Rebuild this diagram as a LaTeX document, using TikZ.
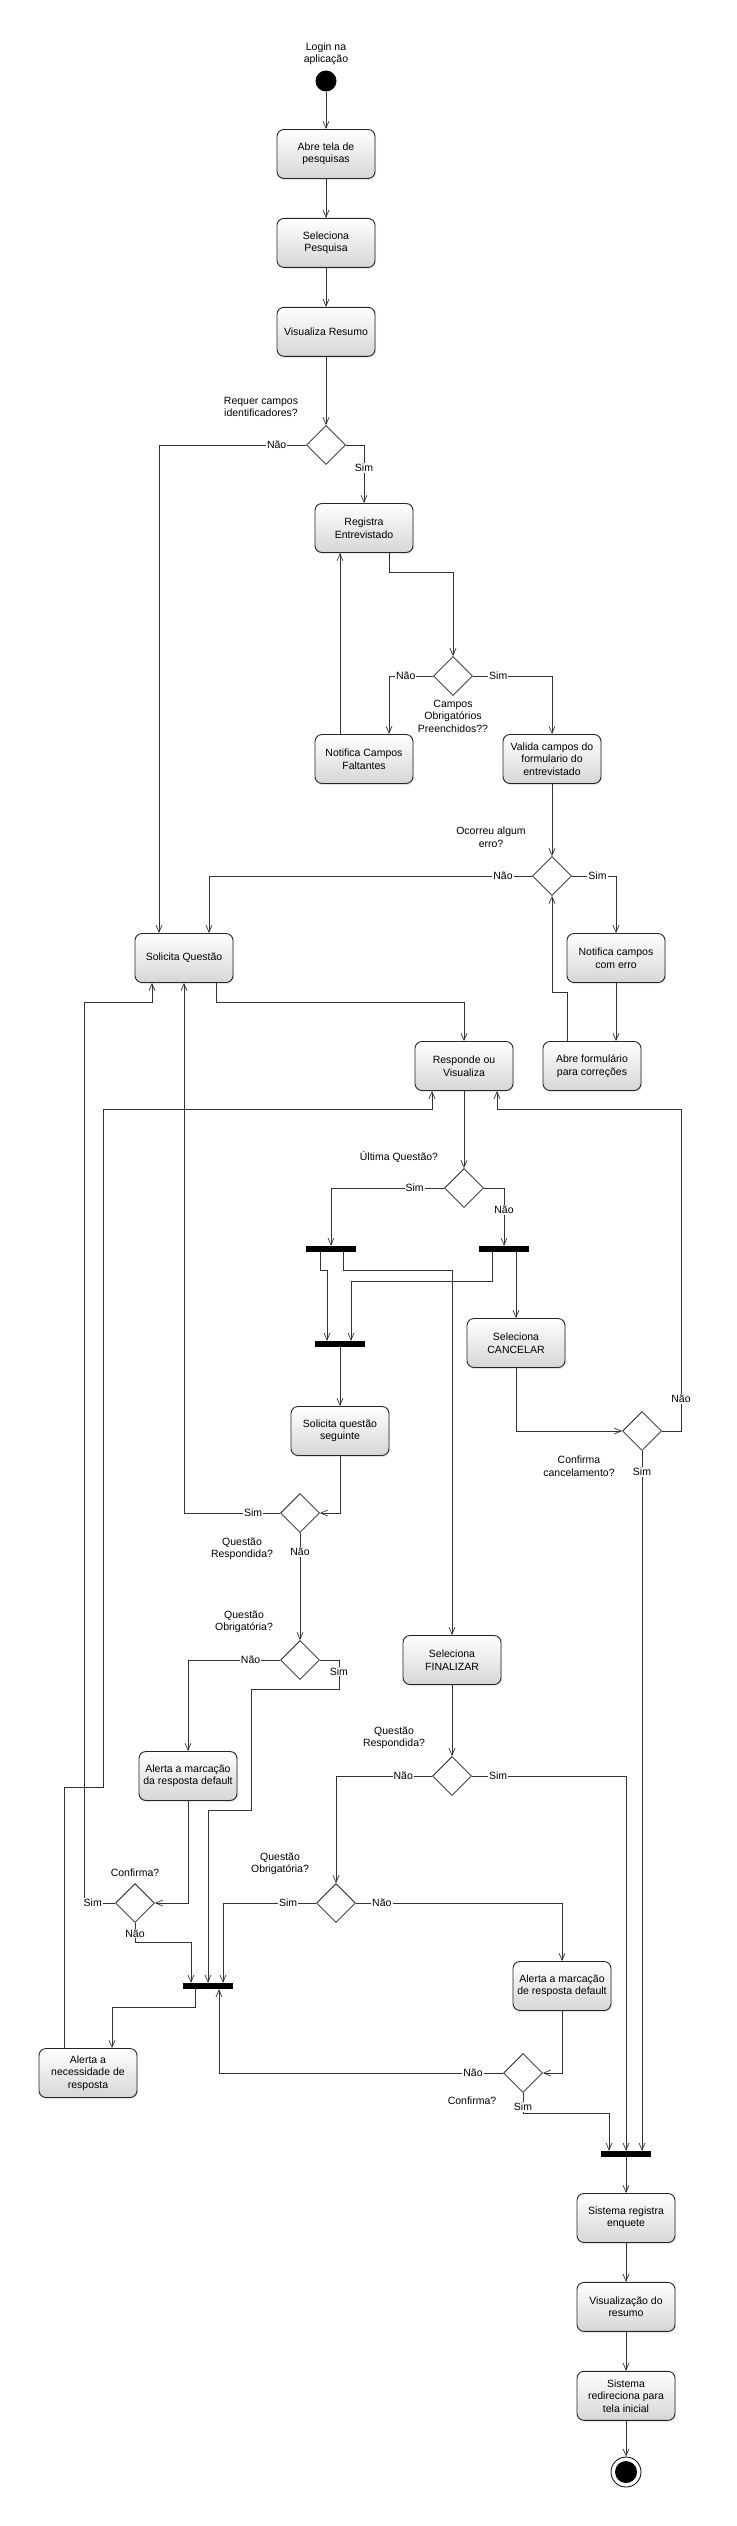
\documentclass[tikz,border=0pt]{standalone}
\usepackage{fontspec}
\setmainfont{Liberation Sans}
\usepackage{tikz}
\usetikzlibrary{arrows.meta,positioning,shapes.geometric,shadows}

\begin{document}
\begin{tikzpicture}[
    x=1pt, y=-1pt,
    font=\fontsize{10.5}{12.5}\selectfont,
    node distance=39pt,
    act/.style={draw=black!85, line width=0.9pt, rounded corners=7pt, minimum width=98pt, minimum height=49pt, align=center, inner sep=2pt, top color=white, bottom color=black!16, drop shadow={opacity=0.2, shadow xshift=1pt, shadow yshift=-1.5pt}},
    decision/.style={diamond, draw=black!85, line width=0.8pt, aspect=1, minimum width=39pt, minimum height=39pt, inner sep=0pt, fill=white},
    syncbar/.style={fill=black, minimum width=50pt, minimum height=6pt, inner sep=0pt},
    guard/.style={fill=white, inner sep=1pt},
    note/.style={align=center, inner sep=0pt},
    arrow/.style={-{Straight Barb[length=7pt,width=6pt]}, draw=black!80, line width=0.7pt}
]
\useasboundingbox (0,0) rectangle (736,2526);

% inicio
\node[note] (login) at (326,54) {Login na\\aplicação};
\node[circle, fill=black, minimum size=21pt, inner sep=0pt] (start) at (326,81) {};
\node[act] (abre) at (326,154) {Abre tela de\\pesquisas};
\node[act, below=of abre] (selp) {Seleciona\\Pesquisa};
\node[act, below=of selp] (visres) {Visualiza Resumo};
\node[decision] (d1) at (326,445) {};
\node[note] (q1) at (261,407) {Requer campos\\identificadores?};

% entrevistado
\node[act] (registra) at (364,528) {Registra\\Entrevistado};
\node[decision] (d2) at (453,676) {};
\node[note] (q2) at (453,716) {Campos\\Obrigatórios\\Preenchidos??};
\node[act] (notfalt) at (364,759) {Notifica Campos\\Faltantes};
\node[act] (valida) at (552,759) {Valida campos do\\formulario do\\entrevistado};
\node[decision] (d3) at (552,876) {};
\node[note] (q3) at (491,837) {Ocorreu algum\\erro?};
\node[act] (noterro) at (616,958) {Notifica campos\\com erro};
\node[act] (abrecor) at (592,1066) {Abre formulário\\para correções};

% questoes
\node[act] (solq) at (184,958) {Solicita Questão};
\node[act] (resp) at (464,1066) {Responde ou\\Visualiza};
\node[decision] (d4) at (464,1188) {};
\node[note] (q4) at (399,1157) {Última Questão?};
\node[syncbar] (bar1) at (331,1249) {};
\node[syncbar] (bar2) at (504,1249) {};
\node[syncbar] (join1) at (340,1344) {};
\node[act] (cancelar) at (516,1343) {Seleciona\\CANCELAR};
\node[decision] (d5) at (642,1431) {};
\node[note] (q5) at (579,1466) {Confirma\\cancelamento?};
\node[act] (solseg) at (340,1431) {Solicita questão\\seguinte};
\node[decision] (d6) at (300,1513) {};
\node[note] (q6) at (242,1549) {Questão\\Respondida?};
\node[decision] (d7) at (300,1660) {};
\node[note] (q7) at (244,1622) {Questão\\Obrigatória?};
\node[act] (alerta1) at (188,1776) {Alerta a marcação\\da resposta default};
\node[decision] (d9) at (135,1903) {};
\node[note] (q9) at (135,1873) {Confirma?};
\node[syncbar] (join2) at (208,1986) {};
\node[act] (alerta2) at (88,2073) {Alerta a\\necessidade de\\resposta};

% finalizar
\node[act] (finalizar) at (452,1660) {Seleciona\\FINALIZAR};
\node[decision] (d8) at (452,1776) {};
\node[note] (q8) at (394,1738) {Questão\\Respondida?};
\node[decision] (d10) at (336,1903) {};
\node[note] (q10) at (280,1864) {Questão\\Obrigatória?};
\node[act] (alerta3) at (562,1986) {Alerta a marcação\\de resposta default};
\node[decision] (d11) at (523,2073) {};
\node[note] (q11) at (472,2101) {Confirma?};
\node[syncbar] (finalbar) at (626,2154) {};
\node[act] (sisreg) at (626,2218) {Sistema registra\\enquete};
\node[act, below=of sisreg] (visresumo) {Visualização do\\resumo};
\node[act, below=of visresumo] (redir) {Sistema\\redireciona para\\tela inicial};
\node[circle, draw=black, line width=0.8pt, fill=white, minimum size=30pt, inner sep=0pt] (fim) at (626,2472) {};
\node[circle, fill=black, minimum size=22pt, inner sep=0pt] (fimdot) at (fim) {};

% fluxos diretos
\foreach \a/\b in {start/abre,abre/selp,selp/visres,visres/d1,valida/d3,resp/d4,join1/solseg,finalizar/d8,finalbar/sisreg,sisreg/visresumo,visresumo/redir,redir/fim} {
    \draw[arrow] (\a) -- (\b);
}

% entrevistado
\draw[arrow] (d1.west) -| node[guard, pos=0.1]{Não} ([xshift=-25pt]solq.north);
\draw[arrow] (d1.east) -| node[guard, pos=0.7]{Sim} (registra.north);
\draw[arrow] ([xshift=25pt]registra.south) -- ++(0,19) -| (d2.north);
\draw[arrow] (d2.west) -| node[guard, pos=0.31]{Não} ([xshift=25pt]notfalt.north);
\draw[arrow] (d2.east) -| node[guard, pos=0.16]{Sim} (valida.north);
\draw[arrow] ([xshift=-24pt]notfalt.north) -- ([xshift=-24pt]registra.south);
\draw[arrow] (d3.west) -| node[guard, pos=0.045]{Não} ([xshift=25pt]solq.north);
\draw[arrow] (d3.east) -| node[guard, pos=0.29]{Sim} (noterro.north);
\draw[arrow] (noterro.south) -- (noterro.south |- abrecor.north);
\draw[arrow] ([xshift=-25pt]abrecor.north) -- ++(0,-49) -| (d3.south);

% questoes
\draw[arrow] ([xshift=32pt]solq.south) -- ++(0,19) -| (resp.north);
\draw[arrow] (d4.west) -| node[guard, pos=0.13]{Sim} (bar1.north);
\draw[arrow] (d4.east) -| node[guard, pos=0.69]{Não} (bar2.north);
\draw[arrow] ([xshift=-11pt]bar1.south) -- ++(0,18) -| ([xshift=-13pt]join1.north);
\draw[arrow] ([xshift=12pt]bar1.south) -- ++(0,18) -| (finalizar.north);
\draw[arrow] ([xshift=-12pt]bar2.south) -- ++(0,29) -| ([xshift=11pt]join1.north);
\draw[arrow] ([xshift=12pt]bar2.south) -- (cancelar.north);
\draw[arrow] (cancelar.south) |- (d5.west);
\draw[arrow] (d5.east) -| node[guard, pos=0.55]{Não} (681,1109) -| ([xshift=33pt]resp.south);
\draw[arrow] (d5.south) -- node[guard, pos=0.03]{Sim} ([xshift=16pt]finalbar.north);
\draw[arrow] (solseg.south) |- (d6.east);
\draw[arrow] (d6.west) -| node[guard, pos=0.14]{Sim} (solq.south);
\draw[arrow] (d6.south) -- node[guard, pos=0.18]{Não} (d7.north);
\draw[arrow] (d7.west) -| node[guard, pos=0.16]{Não} (alerta1.north);
\draw[arrow] (d7.east) -- ++(19,0) -- node[guard, pos=0.4]{Sim} ++(0,29) -| (251,1810) -| (join2.north);
\draw[arrow] (alerta1.south) |- (d9.east);
\draw[arrow] (d9.west) -| node[guard, pos=0.36]{Sim} (84,1002) -| ([xshift=-32pt]solq.south);
\draw[arrow] (d9.south) -- node[guard, pos=0.55]{Não} ++(0,19) -| ([xshift=-17pt]join2.north);
\draw[arrow] ([xshift=-13pt]join2.south) -- ++(0,18) -| ([xshift=24pt]alerta2.north);
\draw[arrow] ([xshift=-24pt]alerta2.north) |- (103,1787) -- (103,1109) -| ([xshift=-32pt]resp.south);

% finalizar
\draw[arrow] (d8.west) -| node[guard, pos=0.15]{Não} (d10.north);
\draw[arrow] (d8.east) -| node[guard, pos=0.085]{Sim} (finalbar.north);
\draw[arrow] (d10.west) -| node[guard, pos=0.15]{Sim} ([xshift=15pt]join2.north);
\draw[arrow] (d10.east) -| node[guard, pos=0.063]{Não} (alerta3.north);
\draw[arrow] (alerta3.south) |- (d11.east);
\draw[arrow] (d11.west) -| node[guard, pos=0.053]{Não} ([xshift=11pt]join2.south);
\draw[arrow] (d11.south) -- node[guard, pos=0.7]{Sim} ++(0,20) -| ([xshift=-17pt]finalbar.north);
\end{tikzpicture}
\end{document}
